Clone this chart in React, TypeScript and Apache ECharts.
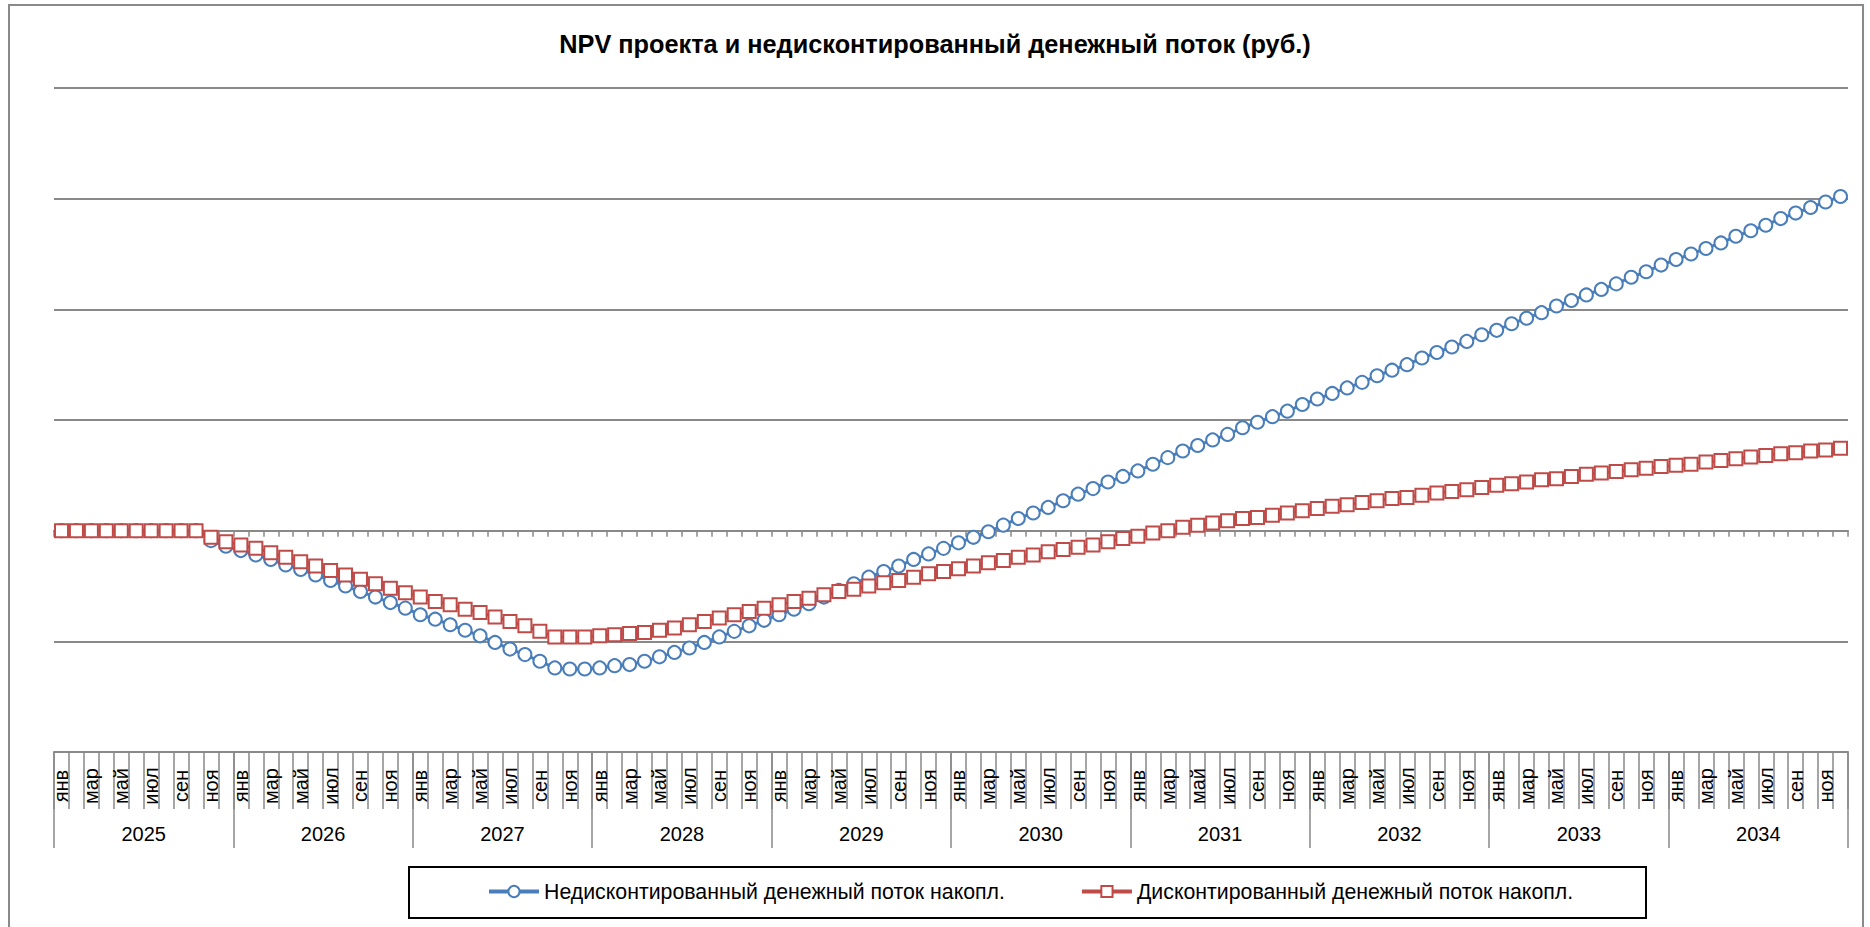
import { useEffect, useRef } from "react";
import * as echarts from "echarts";

const MONTHS = ["янв", "фев", "мар", "апр", "май", "июн", "июл", "авг", "сен", "окт", "ноя", "дек"];
const YEARS = ["2025", "2026", "2027", "2028", "2029", "2030", "2031", "2032", "2033", "2034"];

// Cumulative flows (gridline step = 1 unit; the y scale has no printed labels)
const UNDISCOUNTED = [
  0, 0, 0, 0, 0, 0, 0, 0, 0, 0, -0.09, -0.14,
  -0.18, -0.22, -0.26, -0.31, -0.35, -0.4, -0.45, -0.5, -0.55, -0.6, -0.65, -0.7,
  -0.76, -0.8, -0.85, -0.9, -0.95, -1.01, -1.07, -1.12, -1.18, -1.24, -1.25, -1.25,
  -1.24, -1.22, -1.21, -1.18, -1.14, -1.1, -1.06, -1.01, -0.96, -0.91, -0.86, -0.81,
  -0.76, -0.71, -0.66, -0.6, -0.54, -0.48, -0.42, -0.37, -0.32, -0.26, -0.21, -0.16,
  -0.11, -0.06, -0.01, 0.05, 0.11, 0.16, 0.21, 0.27, 0.33, 0.38, 0.44, 0.49,
  0.54, 0.6, 0.66, 0.72, 0.77, 0.82, 0.87, 0.93, 0.98, 1.03, 1.08, 1.14,
  1.19, 1.24, 1.29, 1.34, 1.4, 1.45, 1.5, 1.56, 1.61, 1.66, 1.71, 1.77,
  1.81, 1.87, 1.92, 1.97, 2.03, 2.08, 2.13, 2.18, 2.23, 2.29, 2.34, 2.4,
  2.45, 2.5, 2.55, 2.6, 2.66, 2.71, 2.76, 2.82, 2.87, 2.92, 2.97, 3.02,
];

const DISCOUNTED = [
  0, 0, 0, 0, 0, 0, 0, 0, 0, 0, -0.06, -0.1,
  -0.13, -0.16, -0.2, -0.24, -0.28, -0.32, -0.36, -0.4, -0.44, -0.48, -0.52, -0.56,
  -0.6, -0.64, -0.67, -0.71, -0.74, -0.78, -0.82, -0.86, -0.91, -0.96, -0.96, -0.96,
  -0.95, -0.94, -0.93, -0.92, -0.9, -0.88, -0.85, -0.82, -0.79, -0.76, -0.73, -0.7,
  -0.67, -0.64, -0.61, -0.58, -0.55, -0.53, -0.5, -0.47, -0.45, -0.42, -0.39, -0.37,
  -0.345, -0.32, -0.29, -0.27, -0.24, -0.22, -0.19, -0.17, -0.15, -0.13, -0.1, -0.07,
  -0.05, -0.02, 0.0, 0.03, 0.05, 0.07, 0.09, 0.11, 0.12, 0.14, 0.16, 0.18,
  0.2, 0.22, 0.235, 0.255, 0.27, 0.29, 0.3, 0.32, 0.34, 0.355, 0.37, 0.39,
  0.41, 0.425, 0.44, 0.46, 0.47, 0.49, 0.51, 0.52, 0.535, 0.55, 0.565, 0.58,
  0.59, 0.6, 0.62, 0.635, 0.65, 0.665, 0.68, 0.695, 0.705, 0.72, 0.73, 0.745,
];

const Y_MIN = -2;
const Y_MAX = 4;
const Y_STEP = 1;

const TITLE = "NPV проекта и недисконтированный денежный поток (руб.)";
const SERIES_NAMES = ["Недисконтированный денежный поток накопл.", "Дисконтированный денежный поток накопл."];

const FONT = "Arial, 'Liberation Sans', sans-serif";
const GRAY = "#898989";
const BLUE = "#4A7EBB";
const RED = "#BE4B48";

export default function App() {
  const ref = useRef<HTMLDivElement>(null);

  useEffect(() => {
    if (!ref.current) return;
    const chart = echarts.init(ref.current, null, { renderer: "svg" });
    const cats = YEARS.flatMap((y) => MONTHS.map((_, i) => `${y}-${i + 1}`));

    chart.setOption({
      animation: false,
      backgroundColor: "#fff",
      title: {
        text: TITLE,
        left: "center",
        top: 31,
        padding: 0,
        textStyle: { fontFamily: FONT, fontSize: 25.3, fontWeight: "bold", color: "#000" },
      },
      legend: {
        left: 487,
        top: 881,
        padding: 0,
        itemWidth: 50,
        itemHeight: 14,
        itemGap: 75,
        lineStyle: { width: 4 },
        textStyle: { fontFamily: FONT, fontSize: 21.3, color: "#000" },
        data: SERIES_NAMES,
      },
      grid: { left: 54, top: 88, width: 1794, height: 664, containLabel: false },
      xAxis: [
        {
          type: "category",
          data: cats,
          position: "bottom",
          axisLine: { show: true, onZero: true, lineStyle: { color: GRAY, width: 2 } },
          axisTick: { show: true, interval: 0, length: 6, lineStyle: { color: GRAY, width: 1.5 } },
          axisLabel: { show: false },
          splitLine: { show: false },
        },
        {
          type: "category",
          data: cats,
          position: "bottom",
          axisLine: { show: true, onZero: false, lineStyle: { color: GRAY, width: 2 } },
          axisTick: { show: true, interval: 0, length: 57, lineStyle: { color: GRAY, width: 1.5 } },
          axisLabel: {
            interval: 1,
            rotate: 90,
            align: "center",
            margin: 34,
            fontFamily: FONT,
            fontSize: 20,
            color: "#000",
            formatter: (v: string) => MONTHS[Number(v.split("-")[1]) - 1],
          },
          splitLine: { show: false },
        },
        {
          type: "category",
          data: YEARS,
          position: "bottom",
          axisLine: { show: false, onZero: false },
          axisTick: { show: true, interval: 0, length: 96, lineStyle: { color: GRAY, width: 1.5 } },
          axisLabel: { interval: 0, margin: 72, fontFamily: FONT, fontSize: 20, color: "#000" },
          splitLine: { show: false },
        },
      ],
      yAxis: {
        type: "value",
        min: Y_MIN,
        max: Y_MAX,
        interval: Y_STEP,
        axisLine: { show: false },
        axisTick: { show: false },
        axisLabel: { show: false },
        splitLine: { show: true, lineStyle: { color: GRAY, width: 2 } },
      },
      series: [
        {
          name: SERIES_NAMES[0],
          type: "line",
          xAxisIndex: 0,
          data: UNDISCOUNTED,
          symbol: "emptyCircle",
          symbolSize: 13,
          showSymbol: true,
          showAllSymbol: true,
          color: BLUE,
          lineStyle: { color: BLUE, width: 3 },
          itemStyle: { color: BLUE, borderColor: BLUE, borderWidth: 2.2 },
        },
        {
          name: SERIES_NAMES[1],
          type: "line",
          xAxisIndex: 0,
          data: DISCOUNTED,
          symbol: "emptyRect",
          symbolSize: 13,
          showSymbol: true,
          showAllSymbol: true,
          color: RED,
          lineStyle: { color: RED, width: 3 },
          itemStyle: { color: RED, borderColor: RED, borderWidth: 2.2 },
        },
      ],
      graphic: [
        {
          type: "rect",
          silent: true,
          shape: { x: 9, y: 5, width: 1854, height: 1000 },
          style: { fill: "none", stroke: "#8a8a8a", lineWidth: 2 },
        },
        {
          type: "rect",
          silent: true,
          shape: { x: 409, y: 867, width: 1237, height: 51 },
          style: { fill: "none", stroke: "#000", lineWidth: 2 },
        },
      ],
    });

    return () => chart.dispose();
  }, []);

  return (
    <div
      ref={ref}
      style={{ position: "fixed", left: 0, top: 0, width: 1870, height: 927, background: "#fff" }}
    />
  );
}
